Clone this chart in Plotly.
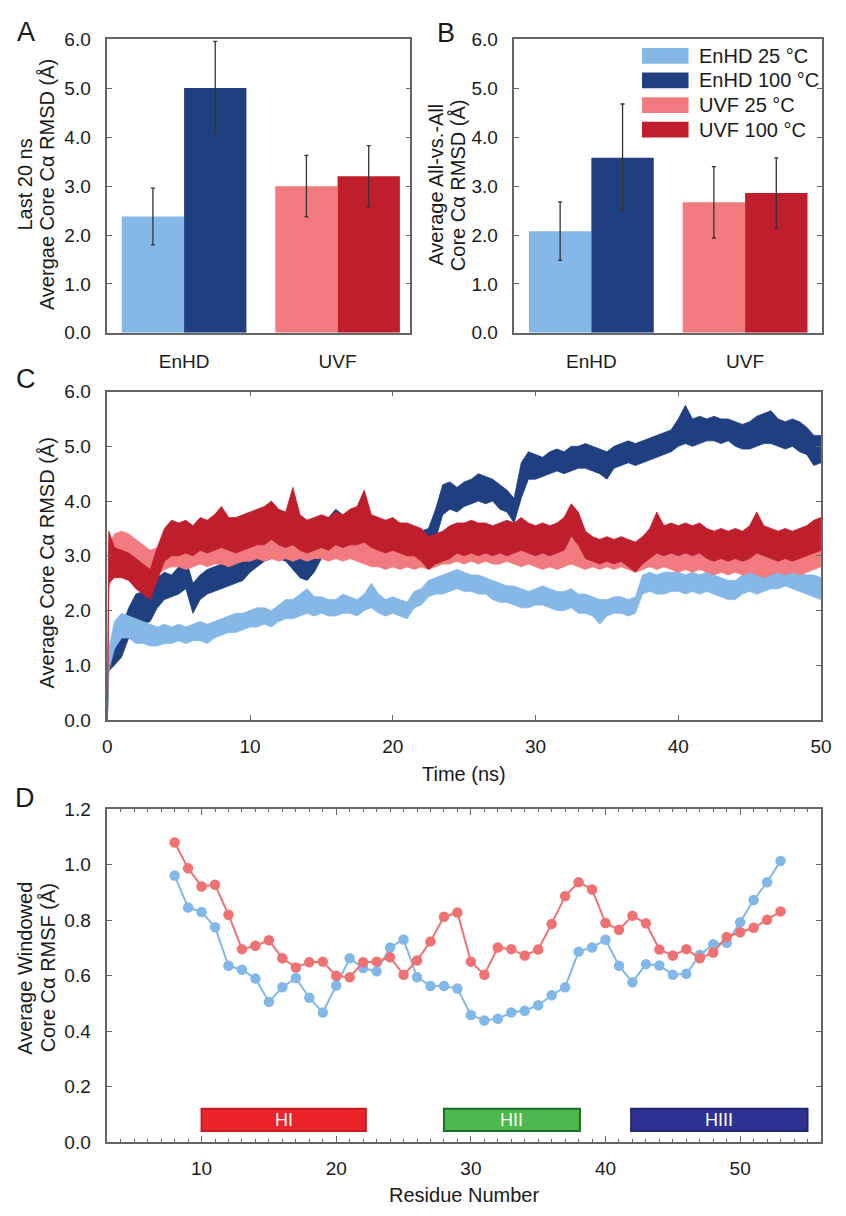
import plotly.graph_objects as go

W, H = 846, 1216
FONT = "Liberation Sans, Arial, sans-serif"
TXT = "#1a1a1a"
AXC = "#666666"

# ---------------- data ----------------
proteins = ["EnHD", "UVF"]
series = ["EnHD 25 °C", "EnHD 100 °C", "UVF 25 °C", "UVF 100 °C"]
series_protein = [0, 0, 1, 1]          # index into proteins
series_side = [-1, 0, -1, 0]           # 25 °C bar left of centre, 100 °C right
series_color = ["#85B8E6", "#1F3F80", "#F27B7F", "#BF1E2D"]

# A: average core Cα RMSD over the last 20 ns (mean, s.d.)
last20_mean = [2.38, 5.01, 3.00, 3.20]
last20_sd = [0.58, 0.95, 0.63, 0.63]

# B: average all-vs.-all core Cα RMSD (mean, s.d.)
allvsall_mean = [2.08, 3.58, 2.67, 2.86]
allvsall_sd = [0.60, 1.10, 0.73, 0.72]

# C: core Cα RMSD vs time, lower/upper edge of each fluctuating trace
time_ns = [0.0, 0.1] + [0.5 * k for k in range(1, 101)]

enhd100_lo = [0, 0.9, 1.0, 1.15, 1.5, 1.8, 1.75, 1.8, 2.05, 2.2, 2.25, 2.3, 2.4, 1.95, 2.2, 2.3, 2.35, 2.4, 2.45, 2.5,
              2.55, 2.7, 2.8, 2.9, 2.95, 2.95, 2.9, 2.75, 2.6, 2.55, 2.7, 2.95, 3.2, 3.3, 3.3, 3.35, 3.3, 3.2, 3.1, 3.1,
              3.05, 3.0, 3.0, 2.95, 3.0, 2.95, 3.0, 3.3, 3.75, 3.85, 3.8, 3.9, 3.95, 4.0, 3.95, 4.0, 3.85, 3.8, 3.6, 4.05,
              4.4, 4.4, 4.45, 4.5, 4.55, 4.5, 4.55, 4.6, 4.6, 4.55, 4.5, 4.4, 4.6, 4.65, 4.7, 4.65, 4.7, 4.75, 4.8, 4.85,
              4.9, 5.0, 5.05, 5.0, 5.05, 5.1, 5.1, 5.05, 5.1, 5.0, 4.95, 4.95, 5.0, 5.05, 5.05, 5.0, 4.95, 5.0, 4.9, 4.85,
              4.65, 4.7]
enhd100_hi = [0, 1.2, 1.45, 1.7, 2.05, 2.3, 2.35, 2.4, 2.6, 2.7, 2.65, 2.8, 2.95, 2.5, 2.65, 2.75, 2.8, 2.85, 2.9, 3.0,
              3.0, 3.1, 3.2, 3.3, 3.45, 3.4, 3.35, 3.25, 3.0, 3.0, 3.1, 3.4, 3.7, 3.85, 3.75, 3.8, 3.8, 3.7, 3.6, 3.55,
              3.5, 3.5, 3.45, 3.45, 3.5, 3.45, 3.5, 3.85, 4.3, 4.35, 4.25, 4.35, 4.4, 4.5, 4.45, 4.4, 4.3, 4.2, 4.05, 4.7,
              4.9, 4.85, 4.8, 4.9, 4.95, 4.9, 5.0, 5.0, 5.05, 5.0, 4.95, 4.9, 5.0, 5.05, 5.1, 5.05, 5.1, 5.15, 5.2, 5.25,
              5.3, 5.5, 5.75, 5.5, 5.55, 5.5, 5.55, 5.5, 5.5, 5.45, 5.4, 5.45, 5.55, 5.6, 5.65, 5.5, 5.45, 5.5, 5.45, 5.35,
              5.2, 5.2]

enhd25_lo = [0, 0.9, 1.3, 1.5, 1.5, 1.4, 1.4, 1.35, 1.35, 1.4, 1.4, 1.45, 1.4, 1.45, 1.45, 1.4, 1.5, 1.55, 1.6, 1.6,
             1.65, 1.7, 1.7, 1.75, 1.7, 1.8, 1.85, 1.85, 1.9, 1.95, 1.9, 1.95, 1.9, 1.9, 1.95, 1.95, 1.9, 2.0, 2.05, 1.95,
             1.9, 1.95, 1.9, 1.85, 2.05, 2.1, 2.25, 2.3, 2.3, 2.35, 2.4, 2.35, 2.35, 2.3, 2.3, 2.2, 2.15, 2.15, 2.1, 2.05,
             2.05, 2.1, 2.1, 2.05, 2.0, 2.0, 2.05, 1.95, 1.95, 1.9, 1.75, 1.9, 1.95, 1.95, 1.9, 1.95, 2.3, 2.35, 2.3, 2.3,
             2.35, 2.35, 2.3, 2.35, 2.3, 2.35, 2.3, 2.25, 2.2, 2.2, 2.3, 2.35, 2.3, 2.35, 2.4, 2.4, 2.45, 2.4, 2.35, 2.3,
             2.25, 2.2]
enhd25_hi = [0, 1.3, 1.8, 1.95, 1.9, 1.85, 1.8, 1.75, 1.7, 1.75, 1.7, 1.75, 1.7, 1.75, 1.8, 1.75, 1.8, 1.85, 1.9, 1.95,
             1.95, 2.0, 2.05, 2.05, 2.0, 2.1, 2.2, 2.2, 2.3, 2.4, 2.25, 2.25, 2.2, 2.2, 2.3, 2.25, 2.2, 2.3, 2.5, 2.3,
             2.2, 2.25, 2.2, 2.15, 2.35, 2.4, 2.55, 2.6, 2.65, 2.7, 2.75, 2.7, 2.65, 2.65, 2.6, 2.55, 2.5, 2.45, 2.45, 2.4,
             2.35, 2.4, 2.45, 2.4, 2.35, 2.35, 2.4, 2.3, 2.3, 2.25, 2.2, 2.2, 2.25, 2.25, 2.2, 2.25, 2.65, 2.7, 2.65, 2.7,
             2.7, 2.7, 2.65, 2.7, 2.65, 2.7, 2.65, 2.6, 2.55, 2.55, 2.65, 2.7, 2.65, 2.7, 2.75, 2.8, 2.8, 2.75, 2.7, 2.65,
             2.65, 2.6]

uvf25_lo = [0, 2.4, 2.8, 2.9, 2.85, 2.7, 2.6, 2.55, 2.65, 2.75, 2.8, 2.8, 2.75, 2.8, 2.85, 2.8, 2.85, 2.85, 2.8, 2.85,
            2.9, 2.9, 2.95, 2.9, 2.95, 2.9, 2.95, 2.9, 2.95, 2.9, 2.95, 2.95, 2.9, 2.95, 2.9, 2.95, 2.9, 2.85, 2.8, 2.8,
            2.75, 2.8, 2.75, 2.8, 2.75, 2.8, 2.75, 2.8, 2.85, 2.85, 2.9, 2.85, 2.9, 2.85, 2.9, 2.85, 2.85, 2.9, 2.85, 2.8,
            2.85, 2.8, 2.75, 2.8, 2.75, 2.8, 2.85, 2.8, 2.75, 2.8, 2.75, 2.8, 2.75, 2.8, 2.75, 2.7, 2.75, 2.8, 2.75, 2.8,
            2.75, 2.7, 2.75, 2.7, 2.75, 2.7, 2.65, 2.7, 2.65, 2.7, 2.65, 2.7, 2.65, 2.6, 2.65, 2.7, 2.65, 2.7, 2.65, 2.7,
            2.75, 2.8]
uvf25_hi = [0, 3.2, 3.4, 3.45, 3.4, 3.3, 3.2, 3.1, 3.15, 3.25, 3.3, 3.3, 3.25, 3.3, 3.3, 3.25, 3.35, 3.3, 3.3, 3.35,
            3.35, 3.4, 3.45, 3.4, 3.45, 3.4, 3.4, 3.4, 3.45, 3.4, 3.45, 3.4, 3.4, 3.45, 3.4, 3.45, 3.4, 3.35, 3.3, 3.25,
            3.25, 3.3, 3.2, 3.25, 3.2, 3.25, 3.2, 3.3, 3.3, 3.35, 3.35, 3.3, 3.35, 3.3, 3.35, 3.3, 3.35, 3.35, 3.3, 3.25,
            3.3, 3.25, 3.2, 3.25, 3.2, 3.25, 3.3, 3.25, 3.2, 3.2, 3.15, 3.2, 3.2, 3.25, 3.2, 3.15, 3.2, 3.25, 3.2, 3.2,
            3.15, 3.15, 3.2, 3.15, 3.2, 3.15, 3.1, 3.15, 3.1, 3.15, 3.1, 3.15, 3.1, 3.05, 3.1, 3.15, 3.1, 3.15, 3.1, 3.2,
            3.2, 3.25]

uvf100_lo = [0, 2.5, 2.6, 2.6, 2.55, 2.4, 2.3, 2.2, 2.55, 2.9, 3.0, 3.0, 3.05, 3.0, 3.1, 3.05, 3.1, 3.15, 3.1, 3.05,
             3.1, 3.15, 3.2, 3.2, 3.3, 3.2, 3.15, 3.2, 3.1, 3.05, 3.1, 3.15, 3.1, 3.2, 3.15, 3.2, 3.2, 3.25, 3.15, 3.1,
             3.05, 3.1, 3.05, 3.0, 3.0, 2.9, 2.75, 2.85, 2.9, 2.95, 3.05, 3.0, 3.05, 3.0, 3.05, 3.0, 3.05, 3.0, 3.05, 3.1,
             3.05, 3.0, 3.05, 3.0, 3.05, 3.1, 3.35, 3.2, 2.95, 2.9, 2.85, 2.9, 2.85, 2.9, 2.8, 2.7, 2.85, 2.95, 3.05, 3.0,
             3.05, 3.0, 3.05, 3.0, 3.05, 2.95, 2.9, 2.95, 2.9, 2.95, 2.9, 2.95, 3.05, 3.0, 2.95, 2.9, 2.95, 2.9, 2.95, 3.0,
             3.05, 3.1]
uvf100_hi = [0, 3.45, 3.15, 3.1, 3.05, 2.95, 2.85, 2.75, 3.15, 3.5, 3.65, 3.6, 3.65, 3.55, 3.7, 3.65, 3.75, 3.9, 3.7, 3.7,
             3.75, 3.8, 3.85, 3.9, 4.0, 3.85, 3.8, 4.25, 3.75, 3.65, 3.7, 3.75, 3.7, 3.8, 3.75, 3.85, 3.9, 4.2, 3.75, 3.7,
             3.65, 3.7, 3.6, 3.6, 3.55, 3.5, 3.35, 3.4, 3.45, 3.55, 3.6, 3.6, 3.65, 3.6, 3.6, 3.55, 3.6, 3.65, 3.6, 3.7,
             3.6, 3.55, 3.6, 3.55, 3.6, 3.7, 3.95, 3.8, 3.45, 3.35, 3.3, 3.35, 3.3, 3.35, 3.3, 3.25, 3.35, 3.5, 3.8, 3.55,
             3.6, 3.55, 3.6, 3.55, 3.6, 3.5, 3.45, 3.5, 3.45, 3.5, 3.45, 3.55, 3.8, 3.55, 3.5, 3.45, 3.5, 3.45, 3.5, 3.55,
             3.65, 3.7]

rmsd_traces = [  # drawing order: bottom to top
    ("EnHD 100 °C", enhd100_lo, enhd100_hi),
    ("EnHD 25 °C", enhd25_lo, enhd25_hi),
    ("UVF 25 °C", uvf25_lo, uvf25_hi),
    ("UVF 100 °C", uvf100_lo, uvf100_hi),
]

# D: windowed core Cα RMSF per residue
residue = list(range(8, 54))
rmsf_enhd = [0.960, 0.845, 0.829, 0.774, 0.635, 0.621, 0.589, 0.505, 0.558, 0.591, 0.520, 0.467, 0.564, 0.662,
             0.627, 0.615, 0.701, 0.730, 0.594, 0.562, 0.562, 0.553, 0.458, 0.438, 0.444, 0.467, 0.473, 0.493,
             0.529, 0.558, 0.686, 0.701, 0.729, 0.635, 0.576, 0.641, 0.636, 0.603, 0.606, 0.674, 0.713, 0.718,
             0.792, 0.872, 0.936, 1.013]
rmsf_uvf = [1.079, 0.986, 0.921, 0.927, 0.819, 0.695, 0.707, 0.727, 0.662, 0.629, 0.648, 0.650, 0.599, 0.594,
            0.648, 0.650, 0.666, 0.603, 0.654, 0.723, 0.812, 0.827, 0.650, 0.603, 0.701, 0.695, 0.672, 0.694,
            0.786, 0.886, 0.936, 0.910, 0.789, 0.765, 0.815, 0.788, 0.694, 0.672, 0.695, 0.662, 0.683, 0.739,
            0.756, 0.772, 0.801, 0.831]

# helices of the homeodomain fold
helix_names = ["HI", "HII", "HIII"]
helix_start = [10.0, 28.0, 41.9]
helix_end = [22.2, 38.1, 55.0]
helix_fill = ["#EC2329", "#4DB84B", "#2E3192"]
helix_edge = ["#C41E24", "#17702C", "#23266F"]

for arr in (enhd100_lo, enhd100_hi, enhd25_lo, enhd25_hi, uvf25_lo, uvf25_hi, uvf100_lo, uvf100_hi):
    assert len(arr) == len(time_ns)
assert len(rmsf_enhd) == len(residue) == len(rmsf_uvf)

# ---------------- layout helpers ----------------
def px(x):
    return x / W


def py(y):
    return 1 - y / H


color_of = dict(zip(series, series_color))
fig = go.Figure()

# ---------------- A and B: bars ----------------
BAR_W = 0.406
for axis_id, means, sds in (("", last20_mean, last20_sd), ("2", allvsall_mean, allvsall_sd)):
    for name, p, side, col, m, s in zip(series, series_protein, series_side, series_color, means, sds):
        fig.add_trace(go.Bar(
            x=[p], y=[m], width=BAR_W, offset=side * BAR_W,
            marker=dict(color=col, line=dict(width=0)),
            error_y=dict(type="data", array=[s], color="#333333", thickness=1.3, width=2),
            xaxis="x" + axis_id, yaxis="y" + axis_id, showlegend=False, name=name,
        ))

# ---------------- C: RMSD traces ----------------
for name, lo, hi in rmsd_traces:
    fig.add_trace(go.Scatter(
        x=time_ns + time_ns[::-1], y=hi + lo[::-1], mode="lines",
        fill="toself", fillcolor=color_of[name],
        line=dict(color=color_of[name], width=0.8),
        xaxis="x3", yaxis="y3", showlegend=False, name=name, hoverinfo="skip",
    ))

# ---------------- D: RMSF ----------------
for vals, col, name in ((rmsf_enhd, "#82B8E8", "EnHD"), (rmsf_uvf, "#F07171", "UVF")):
    fig.add_trace(go.Scatter(
        x=residue, y=vals, mode="lines+markers",
        line=dict(color=col, width=2), marker=dict(color=col, size=10.5),
        xaxis="x4", yaxis="y4", showlegend=False, name=name,
    ))

tickfont = dict(family=FONT, size=19, color=TXT)
common = dict(showgrid=False, zeroline=False, showline=True, linecolor=AXC, linewidth=1.5,
              tickfont=tickfont, tickcolor=AXC, tickwidth=1.2)

xA = [px(104.3), px(413.3)]
xB = [px(519.3), px(832.7)]
xCD = [px(104.3), px(831.7)]
yAB = [py(328.5), py(30)]
yC = [py(722.5), py(388.3)]
yD = [py(1152), py(813)]

fig.update_layout(
    width=W, height=H, margin=dict(l=0, r=0, t=0, b=0),
    paper_bgcolor="white", plot_bgcolor="white", barmode="overlay",
    font=dict(family=FONT, color=TXT),
    xaxis=dict(domain=xA, range=[-0.5, 1.475], tickvals=[0, 1], ticktext=proteins, ticks="",
               mirror=True, ticklabelstandoff=11, anchor="y", **common),
    yaxis=dict(domain=yAB, range=[0, 6], dtick=1, tickformat=".1f", ticks="inside", ticklen=5,
               mirror="ticks", ticklabelstandoff=11, anchor="x", **common),
    xaxis2=dict(domain=xB, range=[-0.5, 1.5], tickvals=[0, 1], ticktext=proteins, ticks="",
                mirror=True, ticklabelstandoff=11, anchor="y2", **common),
    yaxis2=dict(domain=yAB, range=[0, 6], dtick=1, tickformat=".1f", ticks="inside", ticklen=5,
                mirror="ticks", ticklabelstandoff=11, anchor="x2", **common),
    xaxis3=dict(domain=xCD, range=[0, 50], dtick=10, ticks="inside", ticklen=5,
                mirror="ticks", ticklabelstandoff=8, anchor="y3", **common),
    yaxis3=dict(domain=yC, range=[0, 6], dtick=1, tickformat=".1f", ticks="inside", ticklen=5,
                mirror="ticks", ticklabelstandoff=11, anchor="x3", **common),
    xaxis4=dict(domain=xCD, range=[3, 56], tick0=10, dtick=10, ticks="inside", ticklen=6,
                minor=dict(dtick=1, ticks="inside", ticklen=3, tickcolor=AXC),
                mirror="ticks", ticklabelstandoff=8, anchor="y4", **common),
    yaxis4=dict(domain=yD, range=[0, 1.2], dtick=0.2, tickformat=".1f", ticks="inside", ticklen=5,
                mirror="ticks", ticklabelstandoff=11, anchor="x4", **common),
)

shapes = []
annotations = []

# legend drawn in panel B
legend_rows = [46.7, 71.7, 96.7, 121.7]
for name, col, yr in zip(series, series_color, legend_rows):
    shapes.append(dict(type="rect", xref="paper", yref="paper", x0=px(649.3), x1=px(696.7),
                       y0=py(yr + 8), y1=py(yr - 8), fillcolor=col, line=dict(width=0), layer="above"))
    annotations.append(dict(xref="paper", yref="paper", x=px(705), y=py(yr), text=name,
                            xanchor="left", yanchor="middle", showarrow=False,
                            font=dict(family=FONT, size=20, color=TXT)))

# helix bars in panel D
for nm, x0, x1, fc, ec in zip(helix_names, helix_start, helix_end, helix_fill, helix_edge):
    shapes.append(dict(type="rect", xref="x4", yref="y4", x0=x0, x1=x1, y0=0.04, y1=0.12,
                       fillcolor=fc, line=dict(color=ec, width=2)))
    annotations.append(dict(xref="x4", yref="y4", x=(x0 + x1) / 2, y=0.08, text=nm, showarrow=False,
                            xanchor="center", yanchor="middle",
                            font=dict(family=FONT, size=18, color="white")))

# panel letters
for letter, xx, yy in (("A", 21, 22), ("B", 450, 23), ("C", 21, 375), ("D", 20, 802)):
    annotations.append(dict(xref="paper", yref="paper", x=px(xx), y=py(yy), text=letter, showarrow=False,
                            xanchor="center", yanchor="middle", font=dict(family=FONT, size=27, color=TXT)))

# axis titles (one annotation per text line)
titles = [
    ("Last 20 ns", 20, 178, -90),
    ("Avergae Core Cα RMSD (Å)", 43, 178, -90),
    ("Average All-vs.-All", 439, 178, -90),
    ("Core Cα RMSD (Å)", 462, 178, -90),
    ("Average Core Cα RMSD (Å)", 43, 563, -90),
    ("Time (ns)", 468, 777, 0),
    ("Average Windowed", 21, 975, -90),
    ("Core Cα RMSF (Å)", 44, 975, -90),
    ("Residue Number", 468, 1206, 0),
]
for text, xx, yy, ang in titles:
    annotations.append(dict(xref="paper", yref="paper", x=px(xx), y=py(yy), text=text, showarrow=False,
                            textangle=ang, xanchor="center", yanchor="middle",
                            font=dict(family=FONT, size=20, color=TXT)))

fig.update_layout(shapes=shapes, annotations=annotations)
fig.write_html("out.html")
